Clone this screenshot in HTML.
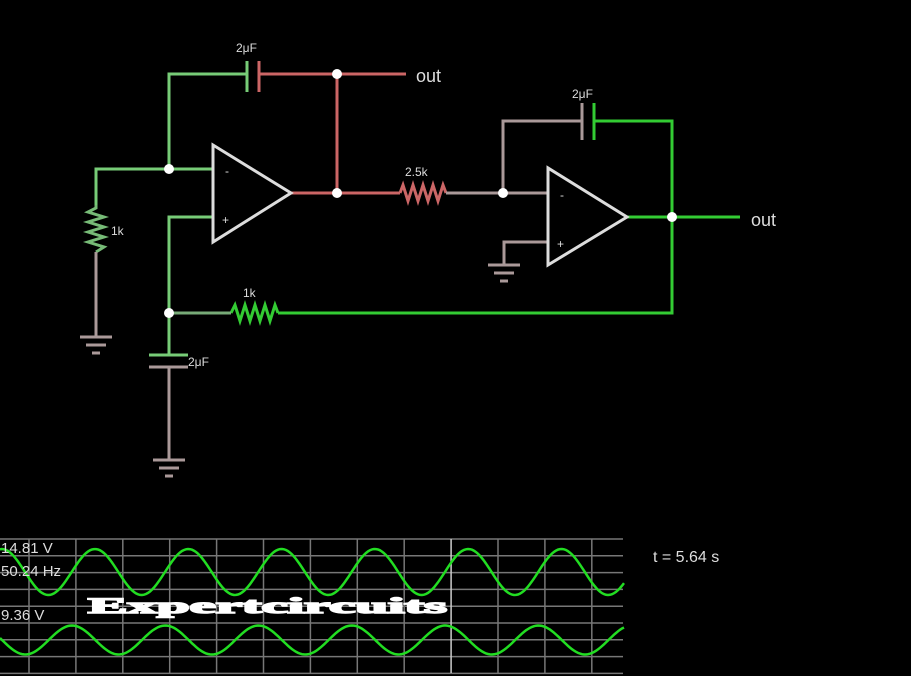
<!DOCTYPE html>
<html><head><meta charset="utf-8"><style>
html,body{margin:0;padding:0;background:#000;width:911px;height:676px;overflow:hidden}
svg{display:block}
.sans{font-family:"Liberation Sans",sans-serif}
</style></head><body>
<svg id="s" width="911" height="676" viewBox="0 0 911 676" xmlns="http://www.w3.org/2000/svg">
<rect width="911" height="676" fill="#000"/>
<g fill="none" stroke-width="3" stroke-linejoin="miter">
<polyline points="96,205 96,169 213,169" stroke="#7c7"/>
<polyline points="169,169 169,74 247,74" stroke="#7c7"/>
<line x1="247" y1="61" x2="247" y2="92" stroke="#7c7"/>
<line x1="259" y1="61" x2="259" y2="92" stroke="#c66"/>
<polyline points="259,74 406,74" stroke="#c66"/>
<polyline points="337,74 337,193" stroke="#c66"/>
<polyline points="291,193 400,193" stroke="#c66"/>
<polyline points="400,193 403,185 408,201 413,185 418,201 423,185 428,201 433,185 438,201 443,185 446,193" stroke="#c66"/>
<polyline points="446,193 548,193" stroke="#a99"/>
<polyline points="503,193 503,121 582,121" stroke="#a99"/>
<line x1="582" y1="103" x2="582" y2="140" stroke="#a99"/>
<line x1="594" y1="103" x2="594" y2="140" stroke="#3c3"/>
<polyline points="594,121 672,121 672,313 278,313" stroke="#3c3"/>
<polyline points="627,217 740,217" stroke="#3c3"/>
<polyline points="278,313 275,305 270,321 265,305 260,321 255,305 250,321 245,305 240,321 235,305 231,313" stroke="#3c3"/>
<polyline points="231,313 169,313" stroke="#7a7"/>
<polyline points="548,242 504,242 504,265" stroke="#a99"/>
<polyline points="96,205 96,208 88,212 104,217 88,222 104,227 88,232 104,237 88,242 104,247 96,252" stroke="#7b7"/>
<polyline points="96,252 96,337" stroke="#a99"/>
<polyline points="213,217 169,217 169,355" stroke="#7c7"/>
<line x1="149" y1="355" x2="188" y2="355" stroke="#7c7"/>
<line x1="149" y1="367" x2="188" y2="367" stroke="#a99"/>
<polyline points="169,367 169,460" stroke="#a99"/>
<g stroke="#a99">
<line x1="80" y1="337" x2="112" y2="337"/><line x1="86" y1="345" x2="106" y2="345"/><line x1="92" y1="353" x2="100" y2="353"/>
<line x1="153" y1="460" x2="185" y2="460"/><line x1="159" y1="468" x2="179" y2="468"/><line x1="165" y1="476" x2="173" y2="476"/>
<line x1="488" y1="265" x2="520" y2="265"/><line x1="494" y1="273" x2="514" y2="273"/><line x1="500" y1="281" x2="508" y2="281"/>
</g>
<polygon points="213,145 213,242 291,193" stroke="#ddd"/>
<polygon points="548,168 548,265 627,217" stroke="#ddd"/>
</g>
<g fill="#fff">
<circle cx="169" cy="169" r="5"/><circle cx="337" cy="74" r="5"/><circle cx="337" cy="193" r="5"/>
<circle cx="503" cy="193" r="5"/><circle cx="672" cy="217" r="5"/><circle cx="169" cy="313" r="5"/>
</g>
<g fill="#ddd" font-size="12" class="sans">
<text x="225" y="175">-</text><text x="222" y="224">+</text>
<text x="560" y="199">-</text><text x="557" y="248">+</text>
<text x="236" y="52">2μF</text><text x="572" y="98">2μF</text><text x="188" y="366">2μF</text>
<text x="405" y="176">2.5k</text><text x="243" y="297">1k</text><text x="111" y="235">1k</text>
<text x="416" y="82" font-size="18">out</text><text x="751" y="226" font-size="18">out</text>
<text x="653" y="562" font-size="16">t = 5.64 s</text>
</g>
<g id="grid" stroke="#777" stroke-width="1.5"></g>
<path id="w1" fill="none" stroke="#2d2" stroke-width="2.5"/>
<path id="w2" fill="none" stroke="#2d2" stroke-width="2.5"/>
<g fill="#ddd" font-size="15" class="sans">
<text x="1" y="553">14.81 V</text><text x="1" y="576">50.24 Hz</text><text x="1" y="620">9.36 V</text>
</g>
<text x="88" y="613" fill="#fff" style="font-family:'Liberation Serif',serif;font-weight:bold;font-size:22px" textLength="359" lengthAdjust="spacingAndGlyphs" stroke="#fff" stroke-width="1.5">Expertcircuits</text>
</svg>
<script>
var g=document.getElementById('grid'),h='';
for(var i=0;i<9;i++){var y=539+i*16.8;h+='<line x1="0" x2="623" y1="'+y+'" y2="'+y+'"/>';}
for(var i=0;i<13;i++){var x=29+46.9*i;h+='<line x1="'+x+'" x2="'+x+'" y1="539" y2="673"'+(i==9?' stroke="#ccc"':'')+'/>';}
g.innerHTML=h;
function w(id,c,a,p0){var d='';for(var x=0;x<=624;x+=2){var y=c-a*Math.cos(2*Math.PI*(x-p0)/93.3);d+=(x?'L':'M')+x+','+y.toFixed(1);}document.getElementById(id).setAttribute('d',d);}
w('w1',572,23,95);w('w2',640,14.5,72);
</script>
</body></html>
